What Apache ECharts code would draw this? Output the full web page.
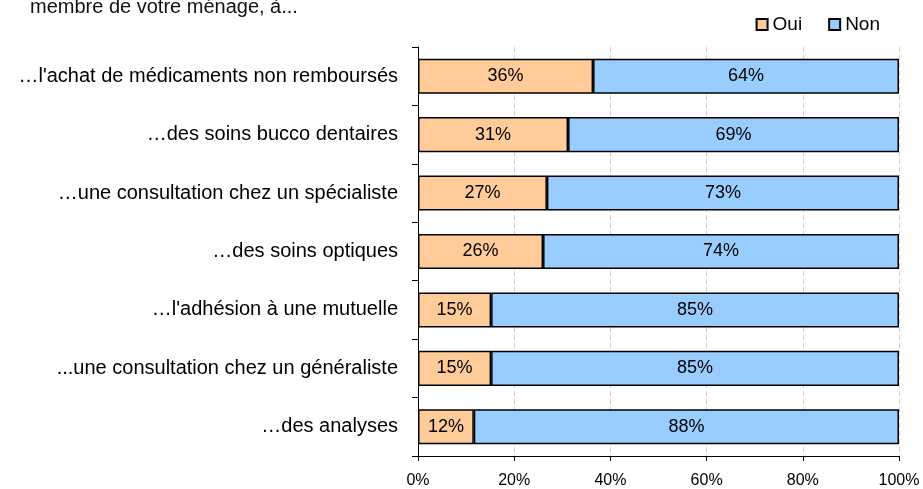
<!DOCTYPE html>
<html>
<head>
    <meta charset="utf-8">
    <title>Renoncement aux soins</title>
    <script src="https://cdn.jsdelivr.net/npm/echarts@6/dist/echarts.min.js"></script>
    <style>
        html, body { margin: 0; padding: 0; background: #fff; }
    </style>
</head>
<body>
<div id="chart" style="width: 923px;height: 489px;"></div>
<script type="text/javascript">
    // données
    var categories = [
        '…l\'achat de médicaments non remboursés',
        '…des soins bucco dentaires',
        '…une consultation chez un spécialiste',
        '…des soins optiques',
        '…l\'adhésion à une mutuelle',
        '...une consultation chez un généraliste',
        '…des analyses'
    ];
    var oui = [36.4, 31.2, 26.8, 26.0, 15.2, 15.2, 11.6];
    var non = [63.6, 68.8, 73.2, 74.0, 84.8, 84.8, 88.4];
    var xTicks = [0, 20, 40, 60, 80, 100];

    var font = 'Liberation Sans, Arial, sans-serif';
    var myChart = echarts.init(document.getElementById('chart'));

    var label = {
        show: true,
        position: 'inside',
        color: '#000',
        fontFamily: font,
        fontSize: 18,
        formatter: function (p) { return Math.round(p.value) + '%'; }
    };

    myChart.setOption({
        animation: false,
        textStyle: { fontFamily: font },
        graphic: [{
            type: 'text',
            left: 30,
            top: -3,
            style: { text: 'membre de votre ménage, à...', font: '20px ' + font, fill: '#111' }
        }],
        legend: {
            data: ['Oui', 'Non'],
            icon: 'rect',
            right: 38,
            top: 10,
            itemWidth: 11,
            itemHeight: 11,
            itemGap: 26,
            textStyle: { fontSize: 19, color: '#000', fontFamily: font }
        },
        grid: { left: 418, right: 24, top: 47, bottom: 33 },
        xAxis: {
            type: 'value',
            min: 0,
            max: 100,
            interval: 20,
            axisLine: { show: true, lineStyle: { color: '#000' } },
            axisTick: { show: true, length: 5, lineStyle: { color: '#000' } },
            axisLabel: {
                color: '#000', fontSize: 16, margin: 17,
                formatter: function (v) { return xTicks.indexOf(v) >= 0 ? v + '%' : ''; }
            },
            splitLine: { show: true, lineStyle: { color: '#d0d0d0', type: [5, 3] } }
        },
        yAxis: {
            type: 'category',
            inverse: true,
            data: categories,
            axisLine: { show: true, lineStyle: { color: '#000' } },
            axisTick: { show: true, length: 6, lineStyle: { color: '#000' } },
            axisLabel: { color: '#000', fontSize: 20, margin: 20 }
        },
        series: [{
            name: 'Oui',
            type: 'bar',
            stack: 'total',
            barCategoryGap: '40%',
            data: oui,
            itemStyle: { color: '#FFCC99', borderColor: '#000', borderWidth: 1.5 },
            label: label
        }, {
            name: 'Non',
            type: 'bar',
            stack: 'total',
            data: non,
            itemStyle: { color: '#99CCFF', borderColor: '#000', borderWidth: 1.5 },
            label: label
        }]
    });
</script>
</body>
</html>
